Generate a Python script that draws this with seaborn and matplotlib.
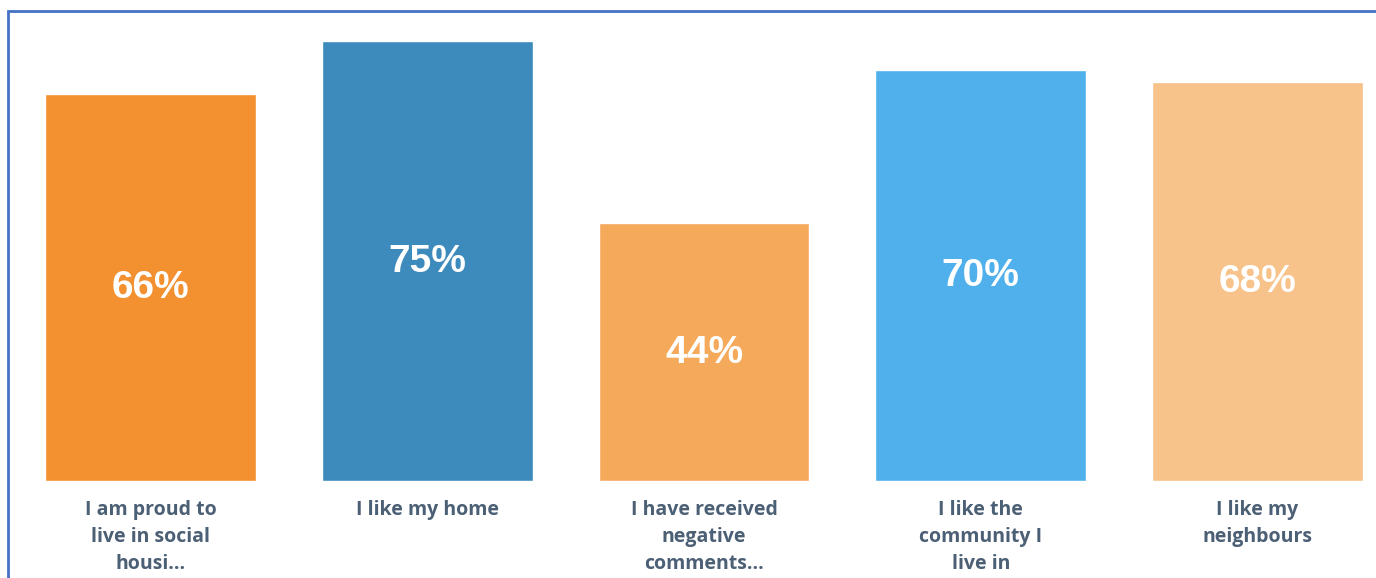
import matplotlib
matplotlib.use("Agg")
import matplotlib.pyplot as plt
import seaborn as sns
import pandas as pd
from matplotlib.patches import Rectangle

categories = [
    "I am proud to\nlive in social\nhousi...",
    "I like my home",
    "I have received\nnegative\ncomments...",
    "I like the\ncommunity I\nlive in",
    "I like my\nneighbours",
]
values = [66, 75, 44, 70, 68]
colors = ["#F39030", "#3D8ABC", "#F5A95B", "#4FB0EC", "#F7C38B"]

df = pd.DataFrame({"statement": categories, "pct": values})

sns.set_theme(style="white")
plt.rcParams["font.family"] = ["Open Sans", "DejaVu Sans"]

W, H = 1376, 578
fig = plt.figure(figsize=(W / 100, H / 100), dpi=100)
fig.patch.set_facecolor("white")

base_px = 481
ax = fig.add_axes([0, (H - base_px) / H, 1, base_px / H])
sns.barplot(data=df, x="statement", y="pct", hue="statement",
            palette=colors, width=0.762, legend=False, ax=ax,
            saturation=1)

px_per_unit = 276.75
first_center = 150.5
ax.set_xlim((0 - first_center) / px_per_unit, (W - first_center) / px_per_unit)
px_per_pct = (481 - 41) / 75
ax.set_ylim(0, base_px / px_per_pct)

for i, v in enumerate(values):
    ax.text(i, v / 2 - 0.1, f"{v}%", ha="center", va="center",
            color="white", fontsize=28, fontweight="bold",
            family=["Liberation Sans", "DejaVu Sans"])

ax.set_xlabel("")
ax.set_ylabel("")
ax.set_yticks([])
ax.tick_params(axis="x", length=0, pad=13.5)
for lab in ax.get_xticklabels():
    lab.set_fontsize(14)
    lab.set_fontweight("bold")
    lab.set_color("#4B5F75")
    lab.set_linespacing(1.46)
    lab.set_verticalalignment("top")
for s in ax.spines.values():
    s.set_visible(False)

# thin blue frame around the chart area
fig.patches.append(Rectangle((8 / W, -0.1), 1.2, 1 - 11 / H + 0.1,
                             transform=fig.transFigure, fill=False,
                             edgecolor="#4472C4", linewidth=2))

fig.savefig("out.png", dpi=100, facecolor="white")
